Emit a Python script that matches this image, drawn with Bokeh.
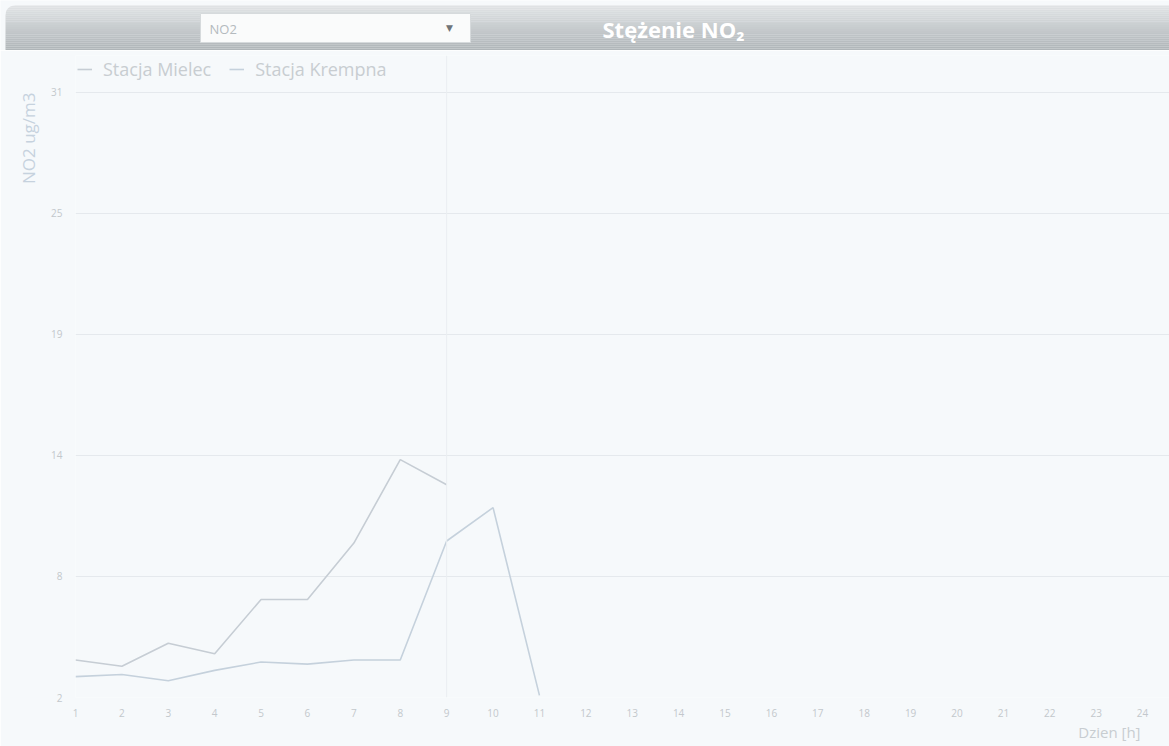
from math import pi, cos, sin

from bokeh.plotting import figure
from bokeh.models import Legend, LegendItem, FixedTicker, Span, Range1d, Title
from bokeh.layouts import column
from bokeh.embed import file_html
from bokeh.resources import INLINE
from bokeh.core.properties import value

# ---------------- data ----------------
hours_mielec = [1, 2, 3, 4, 5, 6, 7, 8, 9]
no2_mielec = [3.8, 3.5, 4.6, 4.1, 6.7, 6.7, 9.4, 13.4, 12.2]

hours_krempna = [1, 2, 3, 4, 5, 6, 7, 8, 9, 10, 11]
no2_krempna = [3.0, 3.1, 2.8, 3.3, 3.7, 3.6, 3.8, 3.8, 9.5, 11.1, 2.1]

x_ticks = list(range(1, 25))
y_ticks = [2, 7.8, 13.6, 19.4, 25.2, 31]
y_tick_labels = ["2", "8", "14", "19", "25", "31"]

series_names = ["Stacja Mielec", "Stacja Krempna"]
pollutant = "NO2"
chart_title = "Stężenie NO₂"
y_title = "NO2 ug/m3"
x_title = "Dzien [h]"

# ---------------- style ----------------
BG = "#f6f9fb"
W = 1169
FONT = "Open Sans"
TICK_COLOR = "#c3c8cc"
C_MIELEC = "#c6cdd4"
C_KREMPNA = "#c5d1dc"

# ---------------- header bar ----------------
HH = 50          # header canvas height
BAR_TOP = 45     # bar spans y 0..45 (page 5..50)
BAR_LEFT = 5
header = figure(width=W, height=HH, x_range=Range1d(0, W), y_range=Range1d(0, HH),
                x_axis_type=None, y_axis_type=None, output_backend="svg",
                toolbar_location=None, min_border=0)
header.frame_align = False
header.grid.visible = False
header.outline_line_color = None
header.background_fill_color = BG
header.border_fill_color = BG

top_rgb = (0xdf, 0xe2, 0xe4)
bot_rgb = (0xaf, 0xb5, 0xb8)
n = 23
lefts, rights, tops, bots, cols = [], [], [], [], []
for i in range(n):
    t = i / (n - 1)
    c = tuple(int(round(top_rgb[k] * (1 - t) + bot_rgb[k] * t)) for k in range(3))
    tops.append(BAR_TOP - i * BAR_TOP / n)
    bots.append(BAR_TOP - (i + 1) * BAR_TOP / n)
    lefts.append(BAR_LEFT)
    rights.append(W)
    cols.append("#%02x%02x%02x" % c)
header.quad(left=lefts, right=rights, top=tops, bottom=bots, fill_color=cols, line_color=None)

# rounded top-left corner mask
r = 9
cx, cy = BAR_LEFT + r, BAR_TOP - r
mx = [BAR_LEFT - 1, BAR_LEFT - 1]
my = [BAR_TOP + 1, cy]
for k in range(0, 11):
    a = pi - k * (pi / 2) / 10
    mx.append(cx + r * cos(a))
    my.append(cy + r * sin(a))
mx.append(cx)
my.append(BAR_TOP + 1)
header.patch(mx, my, fill_color=BG, line_color=None)

# dropdown box
header.quad(left=[200], right=[470], bottom=[8], top=[37], fill_color="#fafbfb",
            line_color="#d6dadc", line_width=1)
header.text(x=[209], y=[22], text=[pollutant], text_font=value(FONT), text_font_size="13px",
            text_color="#b4babe", text_baseline="middle", text_align="left")
header.text(x=[449], y=[23], text=["▼"], text_font=value("DejaVu Sans"), text_font_size="9px",
            text_color="#707478", text_baseline="middle", text_align="center")
# title
header.text(x=[673], y=[22], text=[chart_title], text_font=value(FONT), text_font_size="22px",
            text_font_style="bold", text_color="#ffffff", text_baseline="middle", text_align="center")

# ---------------- chart ----------------
p = figure(width=W, height=746 - HH, x_range=Range1d(1, 24.58), y_range=Range1d(2, 32.77),
           output_backend="svg", toolbar_location=None,
           min_border_left=75, min_border_right=0, min_border_top=5, min_border_bottom=49)
p.frame_align = False
p.background_fill_color = BG
p.border_fill_color = BG
p.outline_line_color = None

p.xaxis.ticker = FixedTicker(ticks=x_ticks)
p.yaxis.ticker = FixedTicker(ticks=y_ticks)
p.yaxis.major_label_overrides = dict(zip(y_ticks, y_tick_labels))
for ax in (p.xaxis, p.yaxis):
    ax.axis_line_color = None
    ax.major_tick_line_color = None
    ax.minor_tick_line_color = None
    ax.major_tick_out = 0
    ax.major_tick_in = 0
    ax.major_label_text_color = TICK_COLOR
    ax.major_label_text_font = FONT
    ax.major_label_text_font_size = "10px"
p.xaxis.major_label_standoff = 11
p.yaxis.major_label_standoff = 13

p.xgrid.visible = False
p.ygrid.ticker = FixedTicker(ticks=y_ticks)
p.ygrid.grid_line_color = "#e5e9ed"
p.ygrid.grid_line_width = 1

p.add_layout(Span(location=hours_mielec[-1], dimension="height", line_color="#eaeef1", line_width=1))

r1 = p.line(hours_mielec, no2_mielec, line_color=C_MIELEC, line_width=1.6)
r2 = p.line(hours_krempna, no2_krempna, line_color=C_KREMPNA, line_width=1.6)

legend = Legend(items=[LegendItem(label=series_names[0], renderers=[r1]),
                       LegendItem(label=series_names[1], renderers=[r2])],
                orientation="horizontal", location="top_left")
legend.background_fill_alpha = 0
legend.border_line_color = None
legend.label_text_color = "#c8cdd1"
legend.label_text_font = FONT
legend.label_text_font_size = "18px"
legend.glyph_width = 15
legend.glyph_height = 14
legend.label_standoff = 11
legend.spacing = 18
legend.padding = 3
legend.margin = 2
p.add_layout(legend)

yt = Title(text=y_title, align="right", offset=37, text_font=FONT, text_font_size="17px",
           text_font_style="normal", text_color="#c6d2de", standoff=18)
p.add_layout(yt, "left")
xt = Title(text=x_title, align="right", offset=29, text_font=FONT, text_font_size="15px",
           text_font_style="normal", text_color="#c8cdd1", standoff=1)
p.add_layout(xt, "below")

layout = column(header, p, spacing=0)
open("out.html", "w").write(file_html(layout, INLINE))
